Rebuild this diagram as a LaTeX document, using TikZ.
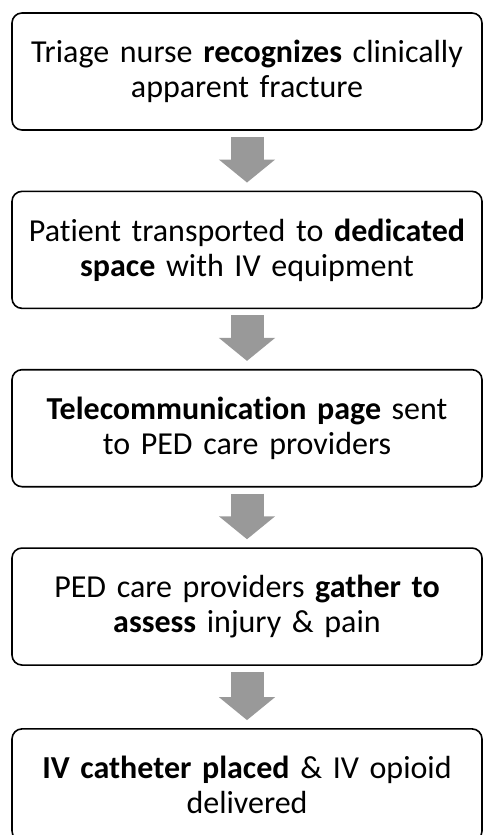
\documentclass[tikz,border=0pt]{standalone}
\usepackage{fontspec}
\setmainfont{Carlito}[Ligatures=NoCommon]
\usetikzlibrary{arrows.meta, positioning}
\definecolor{flowgray}{RGB}{153,153,153}
\tikzset{
    stepbox/.style={rectangle, rounded corners=10pt, draw=black, line width=1.6pt, minimum width=470pt, minimum height=117pt, text width=460pt, align=center, font=\fontsize{32}{35}\selectfont, fill=white},
    fatarrow/.style={-{Triangle[width=55pt, length=23pt]}, line width=33pt, flowgray, shorten <=6pt, shorten >=8pt},
}

\begin{document}
\begin{tikzpicture}[node distance=59.75pt]
\useasboundingbox (0,0) rectangle (484pt,-835pt);

\node[stepbox] (triage) at (247pt,-71.5pt) {Triage nurse \textbf{recognizes} clinically\\apparent fracture};
\node[stepbox, below=of triage] (transport) {Patient transported to \textbf{dedicated}\\\textbf{space} with IV equipment};
\node[stepbox, below=of transport] (page) {\textbf{Telecommunication page} sent\\to PED care providers};
\node[stepbox, below=of page] (gather) {PED care providers \textbf{gather to}\\\textbf{assess} injury \& pain};
\node[stepbox, below=of gather, minimum height=112pt, yshift=-2.5pt] (opioid) {\textbf{IV catheter placed} \& IV opioid\\delivered};

\draw[fatarrow] (triage) -- (transport);
\draw[fatarrow] (transport) -- (page);
\draw[fatarrow] (page) -- (gather);
\draw[fatarrow] (gather) -- (opioid);

\end{tikzpicture}
\end{document}
